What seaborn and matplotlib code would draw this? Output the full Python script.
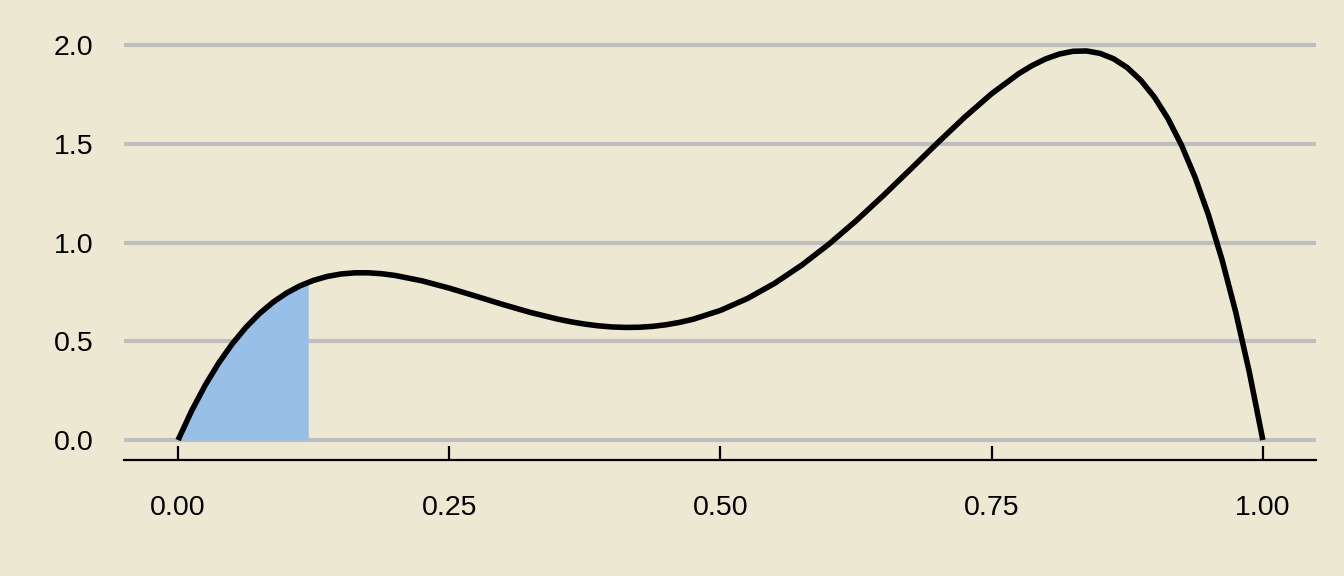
import numpy as np
import pandas as pd
import matplotlib
matplotlib.use("Agg")
import matplotlib.pyplot as plt
import seaborn as sns

# density values
x_vals = [0.0, 0.0125, 0.025, 0.0375, 0.05, 0.0625, 0.075, 0.0875, 0.1, 0.1125,
          0.125, 0.1375, 0.15, 0.1625, 0.175, 0.1875, 0.2, 0.225, 0.25, 0.275,
          0.3, 0.325, 0.35, 0.3625, 0.375, 0.3875, 0.4, 0.4125, 0.425, 0.4375,
          0.45, 0.4625, 0.475, 0.5, 0.525, 0.55, 0.575, 0.6, 0.625, 0.65, 0.675,
          0.7, 0.725, 0.75, 0.775, 0.7875, 0.8, 0.8125, 0.825, 0.8375, 0.85,
          0.8625, 0.875, 0.8875, 0.9, 0.9125, 0.925, 0.9375, 0.95, 0.9625,
          0.975, 0.9875, 1.0]
y_vals = [0.0, 0.148, 0.2775, 0.3903, 0.4875, 0.5703, 0.640, 0.6976, 0.7443, 0.781,
          0.8086, 0.8282, 0.8405, 0.8464, 0.8467, 0.8421, 0.8333, 0.8058, 0.769, 0.7276,
          0.6853, 0.6458, 0.6121, 0.5983, 0.5869, 0.5782, 0.5725, 0.5701, 0.571, 0.5755,
          0.5837, 0.5959, 0.6119, 0.6563, 0.7169, 0.7937, 0.8858, 0.9919, 1.1098, 1.237, 1.3697,
          1.5038, 1.6338, 1.7534, 1.8551, 1.8965, 1.93, 1.9543, 1.968, 1.9697, 1.9575,
          1.93, 1.8853, 1.8213, 1.7362, 1.6276, 1.4932, 1.3307, 1.1375, 0.9107,
          0.6476, 0.3451, 0.0]

# shaded region under the curve
shade_x = [0.0, 0.0125, 0.025, 0.0375, 0.05, 0.0625, 0.075, 0.0875, 0.1, 0.1125, 0.12]
shade_y = [0.0, 0.148, 0.2775, 0.3903, 0.4875, 0.5703, 0.640, 0.6976, 0.7443, 0.781, 0.7986]

x_ticks = [0.0, 0.25, 0.5, 0.75, 1.0]
x_labels = ["0.00", "0.25", "0.50", "0.75", "1.00"]
y_ticks = [0.0, 0.5, 1.0, 1.5, 2.0]
y_labels = ["0.0", "0.5", "1.0", "1.5", "2.0"]

bg = "#ECE8D1"
sns.set_style("white")
plt.rcParams["font.family"] = ["Liberation Sans", "DejaVu Sans"]

df = pd.DataFrame({"x": x_vals, "y": y_vals})

fig = plt.figure(figsize=(13.44, 5.76), dpi=100, facecolor=bg)
ax = fig.add_axes([0.0923, 0.2014, 0.979 - 0.0923, 0.9562 - 0.2014])
ax.set_facecolor(bg)

for yt in y_ticks:
    ax.axhline(yt, color="#BEBEBE", lw=3, zorder=0)

ax.fill_between(shade_x, 0, shade_y, color="#98BFE8", lw=0, zorder=1)
sns.lineplot(data=df, x="x", y="y", ax=ax, color="black", lw=4,
             solid_joinstyle="round", solid_capstyle="butt", zorder=3)

ax.set_xlim(-0.0498, 1.0488)
ax.set_ylim(-0.101, 2.1)
ax.set_xticks(x_ticks)
ax.set_xticklabels(x_labels)
ax.set_yticks(y_ticks)
ax.set_yticklabels(y_labels)
ax.set_xlabel("")
ax.set_ylabel("")

for s in ["top", "right", "left"]:
    ax.spines[s].set_visible(False)
ax.spines["bottom"].set_color("black")
ax.spines["bottom"].set_linewidth(1.6)

ax.tick_params(axis="x", direction="in", length=10, width=1.6, color="black",
               labelsize=20.5, pad=25, bottom=True, labelcolor="black")
ax.tick_params(axis="y", length=0, labelsize=20.5, pad=22, labelcolor="black")

fig.savefig("out.png", dpi=100, facecolor=bg)
